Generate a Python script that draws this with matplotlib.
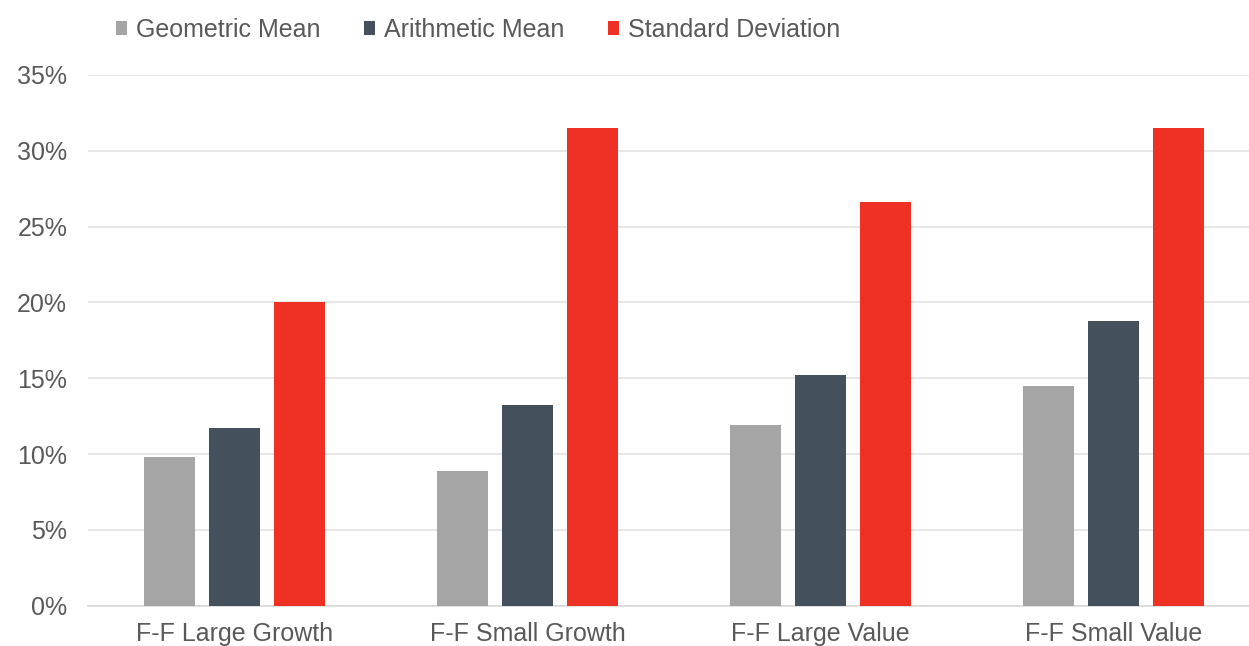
import numpy as np
import matplotlib.pyplot as plt
from matplotlib.ticker import PercentFormatter

plt.rcParams['font.family'] = ['Liberation Sans', 'DejaVu Sans']

# data (fractions)
categories = ["F-F Large Growth", "F-F Small Growth", "F-F Large Value", "F-F Small Value"]
geometric_mean = [0.098, 0.089, 0.119, 0.145]
arithmetic_mean = [0.117, 0.132, 0.152, 0.188]
standard_deviation = [0.200, 0.315, 0.266, 0.315]

series = [("Geometric Mean", geometric_mean, "#a5a5a5"),
          ("Arithmetic Mean", arithmetic_mean, "#44515c"),
          ("Standard Deviation", standard_deviation, "#ee3124")]

W, H = 1249, 646
fig = plt.figure(figsize=(W / 100, H / 100), dpi=100)
ax = fig.add_axes([88 / W, 40.4 / H, (1260 - 88) / W, (605.6 - 75) / H])

x = np.arange(len(categories))
width = 0.174
step = 0.222
for i, (name, vals, col) in enumerate(series):
    ax.bar(x + (i - 1) * step, vals, width, color=col, label=name, zorder=3)

ax.set_xlim(-0.5, len(categories) - 0.5)
ax.set_ylim(0, 0.35)
ax.set_yticks(np.arange(0, 0.351, 0.05))
ax.yaxis.set_major_formatter(PercentFormatter(1.0, decimals=0))
ax.set_xticks(x)
ax.set_xticklabels(categories)
ax.grid(axis='y', color='#e3e3e3', linewidth=1.2, zorder=0)
for s in ['top', 'right', 'left']:
    ax.spines[s].set_visible(False)
ax.spines['bottom'].set_color('#d9d9d9')
ax.spines['bottom'].set_linewidth(1.2)
ax.tick_params(axis='both', length=0, labelsize=18, labelcolor='#595959')
ax.tick_params(axis='y', pad=15)
ax.tick_params(axis='x', pad=12)

fig.legend(loc='center left', bbox_to_anchor=(93 / W, 1 - 30 / H), ncol=3, frameon=False,
           fontsize=18, labelcolor='#595959', handlelength=0.45, handleheight=0.45,
           handletextpad=0.35, columnspacing=1.75)

fig.savefig("out.png", dpi=100)
